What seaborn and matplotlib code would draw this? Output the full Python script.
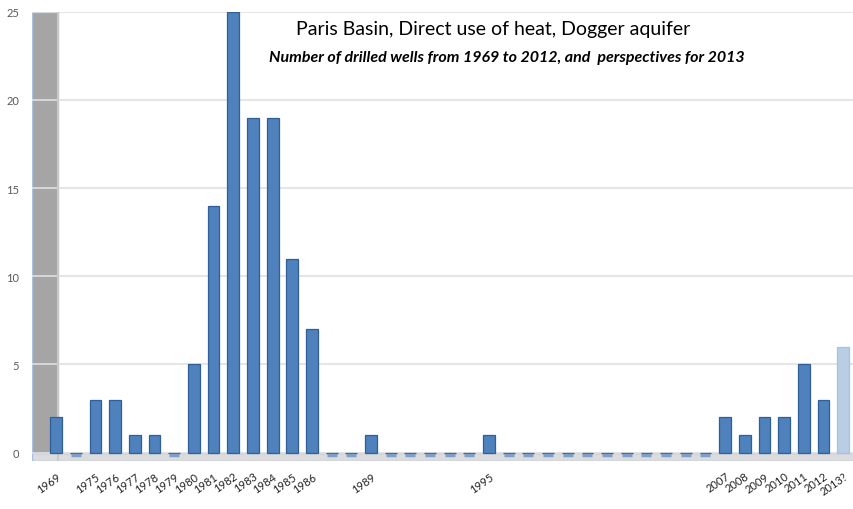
import seaborn as sns
import pandas as pd
import numpy as np
import matplotlib.pyplot as plt

# categories (one unlabeled slot between 1969 and 1975)
years = ["1969", "1970-74"] + [str(y) for y in range(1975, 2014)]
wells = [2, 0,
         3, 3, 1, 1, 0, 5, 14, 25, 19, 19, 11, 7,   # 1975-1986
         0, 0, 1,                                  # 1987-1989
         0, 0, 0, 0, 0, 1,                         # 1990-1995
         0, 0, 0, 0, 0, 0, 0, 0, 0, 0, 0,          # 1996-2006
         2, 1, 2, 2, 5, 3,                         # 2007-2012
         6]                                        # 2013 (perspective)
labels = ["1969", "", "1975", "1976", "1977", "1978", "1979", "1980", "1981",
          "1982", "1983", "1984", "1985", "1986", "", "", "1989",
          "", "", "", "", "", "1995",
          "", "", "", "", "", "", "", "", "", "", "",
          "2007", "2008", "2009", "2010", "2011", "2012", "2013?"]
kind = ["drilled"] * 40 + ["perspective"]

df = pd.DataFrame({"year": years, "wells": wells, "kind": kind})

sns.set_style("white")
plt.rcParams['font.family'] = ['Lato', 'DejaVu Sans']

fig = plt.figure(figsize=(8.54, 5.10), dpi=100)
ax = fig.add_axes([0.037, 0.095, 0.963, 0.88])

# grey side wall and floor
ax.axvspan(-1.25, 0.1, color="#a5a5a5", zorder=0)
ax.axvline(0.1, color="#c8c8c8", linewidth=1.5, zorder=0.6)
ax.axhspan(-0.45, 0, color="#dcdcdc", zorder=0.5)

sns.barplot(data=df, x="year", y="wells", hue="kind", dodge=False,
            palette={"drilled": "#4f81bd", "perspective": "#b9cde5"},
            saturation=1, width=0.6, edgecolor="#2f5f96", linewidth=0.9,
            legend=False, ax=ax, zorder=3)
for p in ax.patches:
    if abs(p.get_height()) > 0 and p.get_facecolor()[0] > 0.6:
        p.set_edgecolor("#a9c0de")

# zero-height bars show as flat dashes on the floor
zero = df[df["wells"] == 0]
ax.scatter([years.index(y) for y in zero["year"]], zero["wells"] - 0.15,
           marker="_", s=60, color="#7f9fc8", linewidths=2.5, zorder=4)

ax.set_xlim(-1.25, 40.55)
ax.set_ylim(-0.45, 25)
ax.set_yticks([0, 5, 10, 15, 20, 25])
ax.yaxis.grid(True, color="#e0e0e0", linewidth=1.2, zorder=1)
ax.set_axisbelow(True)
ax.tick_params(axis="y", labelsize=8, colors="#595959", pad=9, length=0)
ax.set_xticks(range(len(years)))
ax.set_xticklabels(labels, rotation=35, ha="right", rotation_mode="anchor",
                   fontsize=8, color="#222222")
ax.tick_params(axis="x", length=0, pad=7)
ax.set_xlabel("")
ax.set_ylabel("")
sns.despine(ax=ax, left=True, bottom=True)

fig.text(0.578, 0.943, "Paris Basin, Direct use of heat, Dogger aquifer",
         ha="center", va="center", fontsize=14, color="black")
fig.text(0.594, 0.886,
         "Number of drilled wells from 1969 to 2012, and  perspectives for 2013",
         ha="center", va="center", fontsize=11.5, style="italic",
         fontweight="bold", color="black")

fig.savefig("out.png", dpi=100)
